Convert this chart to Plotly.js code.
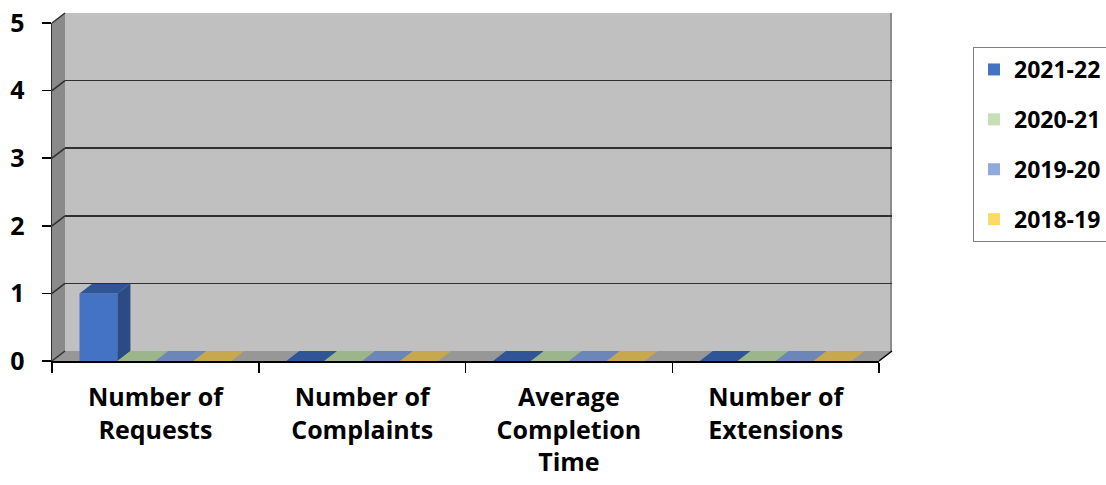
<!DOCTYPE html>
<html><head><meta charset="utf-8">
<script src="https://cdn.plot.ly/plotly-3.0.1.min.js"></script>
<style>html,body{margin:0;padding:0;background:#fff}#chart{width:1106px;height:485px}</style>
</head><body><div id="chart"></div>
<script>
// ---- data ----
const categories = ["Number of<br>Requests", "Number of<br>Complaints", "Average<br>Completion<br>Time", "Number of<br>Extensions"];
const seriesNames = ["2021-22", "2020-21", "2019-20", "2018-19"];
const v2021_22 = [1, 0, 0, 0];
const v2020_21 = [0, 0, 0, 0];
const v2019_20 = [0, 0, 0, 0];
const v2018_19 = [0, 0, 0, 0];
const yTicks = [0, 1, 2, 3, 4, 5];

// ---- style ----
const frontColors = ["#4472C4", "#C5E0B4", "#8FAADC", "#FFD966"];
const topColors   = ["#2F5597", "#9CB58A", "#6C87B7", "#C8A84F"];
const sideColors  = ["#2A4B84", "#8AA079", "#5E77A3", "#B09444"];
const seriesVals = [v2021_22, v2020_21, v2019_20, v2018_19];

const W = 1106, H = 485;
const ML = 52, MR = 214, MT = 13, MB = 124;
const PW = W - ML - MR, PH = H - MT - MB;
const DX = 13, DY = 10;               // 3D depth offset in px
const frontW = PW - DX, frontH = PH - DY;
const bargap = 0.266;
const nCat = categories.length, nSer = seriesNames.length;
const yMax = 5;
const dxData = DX / (frontW / nCat);
const dyData = DY / (frontH / yMax);
const bw = (1 - bargap) / nSer;

function px(x) { return (x - ML) / PW; }
function py(y) { return (H - MB - y) / PH; }

const fam = "'Open Sans', Lato, sans-serif";
const font = {family: fam, size: 25, color: "#000", weight: 700};

const traces = [];
seriesVals.forEach((vals, s) => {
  traces.push({
    type: "bar", x: categories.map((_, i) => i), y: vals, name: seriesNames[s],
    marker: {color: frontColors[s], line: {width: 0}},
    legendgroup: seriesNames[s], hoverinfo: "name+y"
  });
});
// top & side faces of the 3D boxes, computed from the same values
seriesVals.forEach((vals, s) => {
  const tx = [], ty = [], sx = [], sy = [];
  vals.forEach((v, c) => {
    const xl = c - 0.5 + bargap / 2 + s * bw, xr = xl + bw;
    tx.push(xl, xr, xr + dxData, xl + dxData, xl, null);
    ty.push(v, v, v + dyData, v + dyData, v, null);
    if (v > 0) {
      sx.push(xr, xr, xr + dxData, xr + dxData, xr, null);
      sy.push(0, v, v + dyData, dyData, 0, null);
    }
  });
  traces.push({type: "scatter", mode: "lines", x: tx, y: ty, fill: "toself", fillcolor: topColors[s],
    line: {width: 0}, showlegend: false, hoverinfo: "skip", legendgroup: seriesNames[s]});
  if (sx.length) traces.push({type: "scatter", mode: "lines", x: sx, y: sy, fill: "toself", fillcolor: sideColors[s],
    line: {width: 0}, showlegend: false, hoverinfo: "skip", legendgroup: seriesNames[s]});
});
// invisible trace to activate the back-wall axes
traces.push({type: "scatter", x: [0], y: [0], xaxis: "x2", yaxis: "y2", mode: "markers",
  marker: {opacity: 0}, showlegend: false, hoverinfo: "skip"});

const shapes = [];
// back wall
shapes.push({type: "rect", xref: "x2 domain", yref: "y2 domain", x0: 0, x1: 1, y0: 0, y1: 1,
  fillcolor: "#C0C0C0", line: {width: 0}, layer: "below"});
// left wall
shapes.push({type: "path", xref: "paper", yref: "paper",
  path: `M${px(ML)},${py(MT + DY)} L${px(ML + DX)},${py(MT)} L${px(ML + DX)},${py(H - MB - DY)} L${px(ML)},${py(H - MB)} Z`,
  fillcolor: "#8A8A8A", line: {width: 0}, layer: "below"});
// floor
shapes.push({type: "path", xref: "paper", yref: "paper",
  path: `M${px(ML)},${py(H - MB)} L${px(ML + DX)},${py(H - MB - DY)} L${px(W - MR)},${py(H - MB - DY)} L${px(W - MR - DX)},${py(H - MB)} Z`,
  fillcolor: "#979797", line: {width: 0}, layer: "below"});
// back wall right edge
shapes.push({type: "line", xref: "paper", yref: "paper", x0: px(W - MR - 1), x1: px(W - MR - 1), y0: py(MT), y1: py(H - MB - DY),
  line: {color: "#8C8C8C", width: 2}, layer: "below"});
// diagonals on left wall at tick values
yTicks.forEach(v => {
  const yf = H - MB - v * frontH / yMax;
  shapes.push({type: "line", xref: "paper", yref: "paper", x0: px(ML), y0: py(yf), x1: px(ML + DX), y1: py(yf - DY),
    line: {color: "#303030", width: 1.5}, layer: "above"});
});
// right floor edge
shapes.push({type: "line", xref: "paper", yref: "paper", x0: px(W - MR - DX), y0: py(H - MB), x1: px(W - MR), y1: py(H - MB - DY),
  line: {color: "#000", width: 1.5}, layer: "above"});

const layout = {
  width: W, height: H,
  margin: {l: ML, r: MR, t: MT, b: MB, pad: 0},
  paper_bgcolor: "#fff", plot_bgcolor: "rgba(0,0,0,0)",
  barmode: "group", bargap: bargap, bargroupgap: 0,
  font: font,
  showlegend: true,
  xaxis: {
    domain: [0, frontW / PW], range: [-0.5, nCat - 0.5],
    tickvals: categories.map((_, i) => i), ticktext: categories,
    ticks: "", showgrid: false, zeroline: false,
    showline: true, linecolor: "#000", linewidth: 2,
    minor: {tick0: -0.5, dtick: 1, ticks: "outside", ticklen: 10, tickcolor: "#000", tickwidth: 1.5, showgrid: false},
    tickfont: font, ticklabelstandoff: 13, fixedrange: true
  },
  yaxis: {
    domain: [0, frontH / PH], range: [0, yMax], tickvals: yTicks,
    ticks: "outside", ticklen: 9, tickcolor: "#000", tickwidth: 1.5,
    showgrid: false, zeroline: false, showline: true, linecolor: "#303030", linewidth: 1.5,
    tickfont: font, ticklabelstandoff: 12, fixedrange: true
  },
  xaxis2: {domain: [DX / PW, 1], anchor: "y2", range: [0, 1], visible: true, showgrid: false,
    showticklabels: false, ticks: "", zeroline: false, showline: false, fixedrange: true},
  yaxis2: {domain: [DY / PH, 1], anchor: "x2", range: [0, yMax], tickvals: yTicks.filter(v => v > 0),
    showgrid: true, gridcolor: "#303030", gridwidth: 1.5, showticklabels: false, ticks: "",
    zeroline: false, showline: false, fixedrange: true},
  legend: {
    xref: "container", yref: "container", x: 973 / W, y: 1 - 47 / H, xanchor: "left", yanchor: "top",
    bordercolor: "#7F7F7F", borderwidth: 1, bgcolor: "#fff",
    font: {family: fam, size: 23, color: "#000", weight: 700},
    traceorder: "grouped", tracegroupgap: 17, itemwidth: 30
  },
  shapes: shapes
};

Plotly.newPlot("chart", traces, layout, {displayModeBar: false, staticPlot: true});
</script>
</body></html>
